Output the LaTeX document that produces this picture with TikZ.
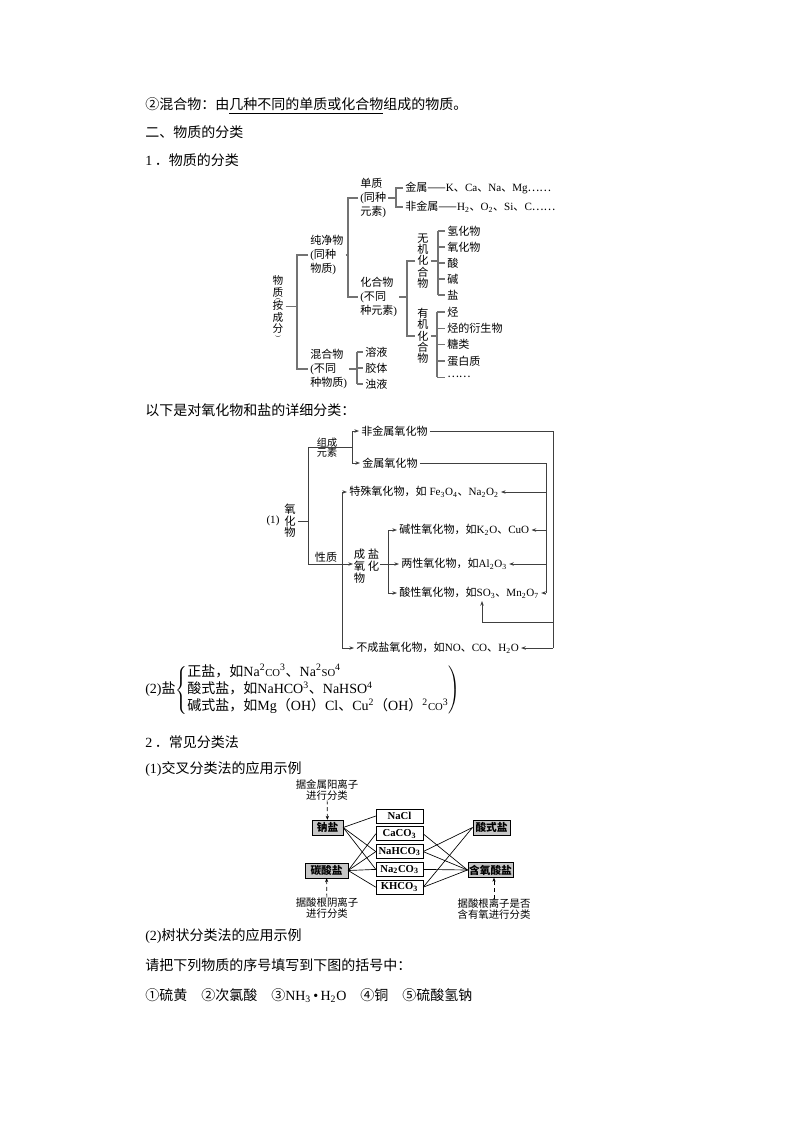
\documentclass[tikz,border=0pt]{standalone}
\usepackage{fontspec}
\setmainfont{Liberation Serif}
\newfontfamily\cjk{Noto Sans CJK SC}
\usetikzlibrary{arrows.meta}
% Chinese characters switch to the CJK font by themselves
\XeTeXinterchartokenstate=1
\chardef\cjkcls=7
\newcount\cjkcnt
\def\setcjk#1#2{\cjkcnt=#1 \loop\XeTeXcharclass\cjkcnt=\cjkcls\advance\cjkcnt by 1 \ifnum\cjkcnt<#2 \repeat}
\setcjk{"4E00}{"A000}
\setcjk{"3000}{"3040}
\setcjk{"FF00}{"FFF0}
\setcjk{"2460}{"2500}
\XeTeXcharclass"2014=\cjkcls
\XeTeXcharclass"2026=\cjkcls
\XeTeXinterchartoks 0 \cjkcls={\cjk}
\XeTeXinterchartoks 4095 \cjkcls={\cjk}
\XeTeXinterchartoks \cjkcls 0={\rmfamily}
\XeTeXinterchartoks \cjkcls 4095={\rmfamily}
\newcommand{\subn}[1]{\textsubscript{#1}}
\newcommand{\supn}[1]{\textsuperscript{#1}}
\newcommand{\smn}[1]{{\footnotesize #1}}
\newcommand{\vparen}[1]{\rotatebox[origin=c]{-90}{\fontsize{4.5}{5}\selectfont #1}}
\newcommand{\tightls}{\lineskiplimit=-100pt\relax}

\begin{document}
\begin{tikzpicture}[x=0.75pt, y=-0.75pt,
  body/.style={anchor=base west, inner sep=0pt, font=\fontsize{10.5}{13}\selectfont},
  tx/.style={anchor=west, inner xsep=1.5pt, inner ysep=0pt, align=left, font=\fontsize{8.3}{10.5}\selectfont},
  vt/.style={inner xsep=1.5pt, inner ysep=0pt, align=center, font=\fontsize{8.3}{8.5}\selectfont},
  tree/.style={draw=black!55, line width=0.9pt},
  ln/.style={draw=black!75, line width=0.6pt},
  arr/.style={ln, -{Stealth[length=3.5pt, width=2.6pt]}},
  darr/.style={draw, line width=0.5pt, densely dashed, -{Stealth[length=3pt, width=2.4pt]}},
  box/.style={draw, line width=0.5pt, inner sep=0pt, minimum height=11pt, font=\fontsize{8}{9}\selectfont\bfseries},
  gbox/.style={box, fill=black!22},
  lbl/.style={align=center, inner sep=0pt, font=\fontsize{7.8}{8}\selectfont}]
\useasboundingbox (0,0) rectangle (794,1123);
\fill[white] (0,0) rectangle (794,1123);

% page text
\node[body] (p1) at (145,110) {②混合物：由\underline{几种不同的单质或化合物}组成的物质。};
\node[body] (p2) at (145,138) {二、物质的分类};
\node[body] (p3) at (145,166) {1\hspace{2pt}．物质的分类};
\node[body] (p4) at (145,415) {以下是对氧化物和盐的详细分类：};
\node[body, anchor=west, font=\fontsize{10.5}{12.9}\selectfont] (salt) at (145,690) {(2)盐$\left\{\begin{tabular}{@{}l@{}}
  正盐，如Na\supn{2}\smn{CO}\supn{3}、Na\supn{2}\smn{SO}\supn{4}\\
  酸式盐，如NaHCO\supn{3}、NaHSO\supn{4}\\
  碱式盐，如Mg（OH）Cl、Cu\supn{2}（OH）\supn{2}\smn{CO}\supn{3}\end{tabular}\right)$};
\node[body] (p5) at (145,747) {2\hspace{2pt}．常见分类法};
\node[body] (p6) at (145,773) {(1)交叉分类法的应用示例};
\node[body] (p7) at (145,940) {(2)树状分类法的应用示例};
\node[body] (p8) at (145,970) {请把下列物质的序号填写到下图的括号中：};
\node[body] (p9) at (145,1000) {①硫黄　②次氯酸　③NH\subn{3}\,•\,H\subn{2}O　④铜　⑤硫酸氢钠};

% tree of matter
\node[vt, anchor=north, font=\fontsize{8}{8.7}\selectfont\tightls] (wz) at (278,275.5)
  {物\\质\\[-4.9pt]\vparen{(}\\[-2.5pt]按\\成\\分\\[-5.2pt]\vparen{)}};
\node[tx] (cjw) at (308,255) {纯净物\\(同种\\物质)};
\node[tx] (hhw) at (308,369) {混合物\\(不同\\种物质)};
\node[tx] (dz) at (358,198) {单质\\(同种\\元素)};
\node[tx] (hhu) at (358,297) {化合物\\(不同\\种元素)};
\node[tx] (js) at (403,188) {金属——K、Ca、Na、Mg……};
\node[tx] (fjs) at (403,207) {非金属——H\subn{2}、O\subn{2}、Si、C……};
\node[vt] (wj) at (423,261) {无\\机\\化\\合\\物};
\node[vt] (yj) at (423,336) {有\\机\\化\\合\\物};
\foreach \n/\lab [count=\i from 0] in {qhw/氢化物, yhw/氧化物, suan/酸, jian/碱, yan/盐}
  \node[tx] (\n) at (445,231+16*\i) {\lab};
\foreach \n/\lab [count=\i from 0] in {ting/烃, tys/烃的衍生物, tl/糖类, dbz/蛋白质, dd/……}
  \node[tx] (\n) at (445,312+16.3*\i) {\lab};
\foreach \n/\lab [count=\i from 0] in {ry/溶液, jt/胶体, zy/浊液}
  \node[tx] (\n) at (363,352+16*\i) {\lab};
\coordinate (b1) at (297,0); \coordinate (b2) at (348,0); \coordinate (b3) at (396,0);
\coordinate (b4) at (407,0); \coordinate (b5) at (438,0); \coordinate (b6) at (437,0);
\coordinate (b7) at (357,0);
\draw[tree] (wz.east) -- (b1 |- wz.east);
\draw[tree] (cjw.west) -- (b1 |- cjw.west) -- (b1 |- hhw.west) -- (hhw.west);
\draw[tree] (cjw.east) -- (b2 |- cjw.east);
\draw[tree] (dz.west) -- (b2 |- dz.west) -- (b2 |- hhu.west) -- (hhu.west);
\draw[tree] (dz.east) -- (b3 |- dz.east);
\draw[tree] (js.west) -- (b3 |- js.west) -- (b3 |- fjs.west) -- (fjs.west);
\draw[tree] (hhu.east) -- (b4 |- hhu.east);
\draw[tree] (wj.west) -- (b4 |- wj.west) -- (b4 |- yj.west) -- (yj.west);
\draw[tree] (wj.east) -- (b5 |- wj.east);
\draw[tree] (b5 |- qhw.west) -- (b5 |- yan.west);
\foreach \n in {qhw,yhw,suan,jian,yan} \draw[tree] (b5 |- \n.west) -- (\n.west);
\draw[tree] (yj.east) -- (b6 |- yj.east);
\draw[tree] (b6 |- ting.west) -- (b6 |- dd.west);
\foreach \n in {ting,tys,tl,dbz,dd} \draw[tree] (b6 |- \n.west) -- (\n.west);
\draw[tree] (hhw.east) -- (b7 |- hhw.east);
\draw[tree] (b7 |- ry.west) -- (b7 |- zy.west);
\foreach \n in {ry,jt,zy} \draw[tree] (b7 |- \n.west) -- (\n.west);

% oxides
\node[tx, anchor=center] (n1) at (273,521) {(1)};
\node[vt, font=\fontsize{8.5}{8.7}\selectfont] (oxv) at (290,521) {氧\\化\\物};
\node[lbl, font=\fontsize{7.6}{7.6}\selectfont] (zcys) at (327,448) {组成\\元素};
\node[tx] (fjsy) at (359,431) {非金属氧化物};
\node[tx] (jsy) at (360,463) {金属氧化物};
\node[tx] (tsy) at (347,492) {特殊氧化物，如 Fe\subn{3}O\subn{4}、Na\subn{2}O\subn{2}};
\node[tx, anchor=center] (xz) at (326,557) {性质};
\node[tx, inner xsep=0.5pt, font=\fontsize{8.5}{9}\selectfont] (cy) at (353,566) {成\hspace{2pt}盐\\氧\hspace{2pt}化\\物};
\node[tx] (jxy) at (397,530) {碱性氧化物，如K\subn{2}O、CuO};
\node[tx] (lxy) at (399,564) {两性氧化物，如Al\subn{2}O\subn{3}};
\node[tx] (sxy) at (397,593) {酸性氧化物，如SO\subn{3}、Mn\subn{2}O\subn{7}};
\node[tx] (bcy) at (354,648) {不成盐氧化物，如NO、CO、H\subn{2}O};
\coordinate (p1) at (308,447); \coordinate (c2) at (352,0); \coordinate (c3) at (342,0);
\coordinate (c4) at (388,0); \coordinate (r1) at (553,0); \coordinate (r2) at (546,0);
\coordinate (k1) at (553,622); \coordinate (so3) at (482,601);
\draw[ln] (oxv.east) -- (p1 |- oxv.east);
\draw[ln] (p1) -- (c2 |- p1);
\draw[ln] (c2 |- fjsy.west) -- (c2 |- jsy.west);
\foreach \n in {fjsy,jsy} \draw[arr] (c2 |- \n.west) -- (\n.west);
\draw[ln] (p1) -- (p1 |- lxy.west);
\draw[arr] (p1 |- lxy.west) -- (cy.west |- lxy.west);
\draw[ln] (c3 |- tsy.west) -- (c3 |- bcy.west);
\foreach \n in {tsy,bcy} \draw[arr] (c3 |- \n.west) -- (\n.west);
\draw[arr] (cy.east |- lxy.west) -- (lxy.west);
\draw[ln] (c4 |- jxy.west) -- (c4 |- sxy.west);
\foreach \n in {jxy,sxy} \draw[arr] (c4 |- \n.west) -- (\n.west);
\draw[ln] (fjsy.east) -- (r1 |- fjsy.east) -- (r1 |- bcy.east);
\draw[arr] (r1 |- bcy.east) -- (bcy.east);
\draw[arr] (k1) -| (so3);
\draw[ln] (jsy.east) -- (r2 |- jsy.east) -- (r2 |- sxy.east);
\foreach \n in {tsy,jxy,lxy,sxy} \draw[arr] (r2 |- \n.east) -- (\n.east);

% cross classification
\node[gbox, minimum width=23pt] (nay) at (327.5,827.5) {钠盐};
\node[gbox, minimum width=32pt] (tsuy) at (326.5,870.5) {碳酸盐};
\node[gbox, minimum width=28pt] (ssy) at (491.5,827.5) {酸式盐};
\node[gbox, minimum width=34pt] (hyy) at (490.5,870) {含氧酸盐};
\foreach \n/\lab [count=\i from 0] in {nacl/NaCl, caco/CaCO\subn{3}, nahco/NaHCO\subn{3}, naco/Na\subn{2}CO\subn{3}, khco/KHCO\subn{3}}
  \node[box, fill=white, minimum width=35pt, minimum height=10.5pt] (\n) at (399.5,816+17.8*\i) {\lab};
\node[lbl] (l1) at (327,790) {据金属阳离子\\进行分类};
\node[lbl] (l2) at (327,908) {据酸根阴离子\\进行分类};
\node[lbl] (l3) at (494,909) {据酸根离子是否\\含有氧进行分类};
\draw[darr] (l1) -- (nay);
\draw[darr] (l2) -- (tsuy);
\draw[darr] (l3.north) -- (l3.north |- hyy.south);
\foreach \n in {nacl,nahco,naco} \draw[line width=0.5pt] (nay.east) -- (\n.west);
\foreach \n in {caco,nahco,naco,khco} \draw[line width=0.5pt] (tsuy.east) -- (\n.west);
\foreach \n in {nahco,khco} \draw[line width=0.5pt] (\n.east) -- (ssy.west);
\foreach \n in {caco,nahco,naco,khco} \draw[line width=0.5pt] (\n.east) -- (hyy.west);
\end{tikzpicture}
\end{document}
